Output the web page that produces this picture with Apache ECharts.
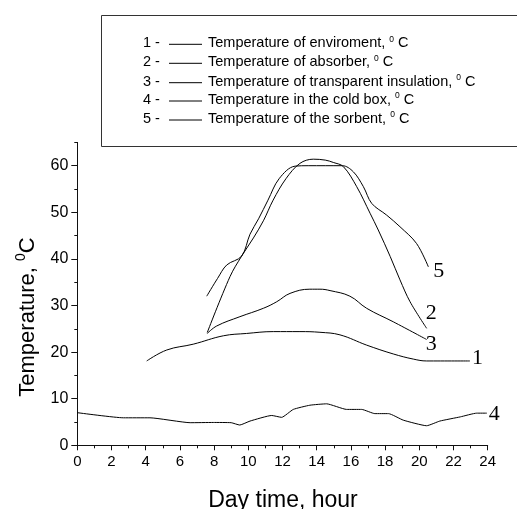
<!DOCTYPE html>
<html>
<head>
<meta charset="utf-8">
<script src="https://cdn.jsdelivr.net/npm/echarts@6/dist/echarts.min.js"></script>
<style>html,body{margin:0;padding:0;background:#fff}#c{width:517px;height:509px}</style>
</head>
<body>
<div id="c"></div>
<script>
// ---- data (hour, temperature) ----
var hours1 = [4.06, 5.23, 6.78, 8.54, 9.9, 11.46, 13.02, 14.19, 15.36, 16.92, 18.48, 19.65, 20.43, 22.96];
var temps1 = [18.1, 20.45, 21.7, 23.5, 24.0, 24.4, 24.4, 24.25, 23.7, 21.5, 19.6, 18.5, 18.1, 18.1];

var hours2 = [7.6, 8.93, 9.61, 10.3, 10.9, 11.45, 12.2, 13.02, 13.8, 14.5, 14.97, 15.56, 16.34, 17.12, 17.6, 18.3, 18.87, 19.46, 20.43];
var temps2 = [24.2, 36.2, 40.6, 44.5, 48.3, 52.6, 57.2, 60.5, 61.4, 61.2, 60.7, 59.8, 55.5, 49.8, 46.2, 40.5, 35.5, 30.8, 25.1];

var hours3 = [7.6, 8.15, 9.51, 10.88, 11.66, 12.44, 13.6, 14.19, 14.78, 15.94, 16.92, 18.48, 20.43];
var temps3 = [24.0, 25.6, 27.6, 29.4, 30.8, 32.6, 33.5, 33.5, 33.2, 32.0, 29.4, 26.5, 22.7];

var hours4 = [0, 2.7, 4.25, 6.6, 7.95, 9.0, 9.5, 10.1, 11.37, 11.95, 12.63, 13.6, 14.58, 15.75, 16.63, 17.4, 18.2, 19.06, 20.43, 21.2, 22.4, 23.36, 23.95];
var temps4 = [7.0, 5.9, 5.9, 4.85, 4.9, 4.85, 4.35, 5.2, 6.4, 6.0, 7.7, 8.6, 8.9, 7.7, 7.7, 6.8, 6.8, 5.4, 4.2, 5.2, 6.1, 6.9, 6.9];

var hours5 = [7.57, 8.2, 8.74, 9.61, 10.1, 10.6, 11.15, 11.8, 12.73, 13.5, 14.5, 15.5, 16.14, 16.73, 17.22, 18.09, 18.87, 19.84, 20.53];
var temps5 = [32.0, 35.8, 38.7, 40.6, 45.3, 48.6, 52.6, 57.2, 59.9, 60.0, 60.0, 60.0, 58.7, 55.5, 51.9, 49.4, 46.9, 43.3, 38.3];

var curveLabels = ['1', '2', '3', '4', '5'];
var legendNames = [
  'Temperature of enviroment, ',
  'Temperature of absorber, ',
  'Temperature of transparent insulation, ',
  'Temperature in the cold box, ',
  'Temperature of the sorbent, '
];
var xTicks = [0, 2, 4, 6, 8, 10, 12, 14, 16, 18, 20, 22, 24];
var yTicks = [0, 10, 20, 30, 40, 50, 60];

function pairs(h, t) { return h.map(function (v, i) { return [v, t[i]]; }); }

var chart = echarts.init(document.getElementById('c'), null, { renderer: 'canvas' });

var sans = 'Liberation Sans, Arial, sans-serif';
var serif = 'Liberation Serif, Times New Roman, serif';

var labelOffsets = [[-6, -3], [-9, -15], [-9, 5], [-6, 1], [-3, 4]];
var smoothVals = [0.4, 0.35, 0.4, 0.15, 0.35];
var allH = [hours1, hours2, hours3, hours4, hours5];
var allT = [temps1, temps2, temps3, temps4, temps5];

var series = allH.map(function (h, i) {
  return {
    type: 'line',
    name: curveLabels[i],
    data: pairs(h, allT[i]),
    showSymbol: false,
    smooth: smoothVals[i],
    lineStyle: { color: '#000', width: 1 },
    itemStyle: { color: '#000' },
    silent: true,
    animation: false,
    endLabel: {
      show: true,
      formatter: curveLabels[i],
      fontFamily: serif,
      fontSize: 22,
      color: '#000',
      offset: labelOffsets[i]
    }
  };
});

// legend graphics
var rowY = [43.3, 62.3, 81.7, 100, 119];
var graphics = [{
  type: 'rect',
  shape: { x: 101.5, y: 15.5, width: 430, height: 131 },
  style: { fill: '#fff', stroke: '#333', lineWidth: 1 },
  z: 0
}];
legendNames.forEach(function (n, i) {
  graphics.push({
    type: 'text', x: 143, y: rowY[i],
    style: { text: curveLabels[i] + ' -', font: '14.5px ' + sans, fill: '#000', verticalAlign: 'middle' }, z: 2
  });
  graphics.push({
    type: 'line', shape: { x1: 169, y1: rowY[i] + 1, x2: 202, y2: rowY[i] + 1 },
    style: { stroke: '#000', lineWidth: 1 }, z: 2
  });
  graphics.push({
    type: 'text', x: 208, y: rowY[i],
    style: {
      text: n + '{s|0} C', font: '14.5px ' + sans, fill: '#000', verticalAlign: 'middle',
      rich: { s: { fontSize: 8.5, fontFamily: sans, verticalAlign: 'top', padding: [0, 0, 8, 0] } }
    }, z: 2
  });
});
// y axis title
graphics.push({
  type: 'text', x: 28, y: 317, rotation: Math.PI / 2,
  style: {
    text: 'Temperature, {s|0}C', font: '22px ' + sans, fill: '#000', align: 'center', verticalAlign: 'middle',
    rich: { s: { fontSize: 14, fontFamily: sans, verticalAlign: 'top', padding: [0, 0, 13, 0] } }
  }, z: 2
});
// x axis title
graphics.push({
  type: 'text', x: 283, y: 501,
  style: { text: 'Day time, hour', font: '23px ' + sans, fill: '#000', align: 'center', verticalAlign: 'middle' }, z: 2
});

chart.setOption({
  animation: false,
  backgroundColor: '#fff',
  grid: { left: 77.3, right: 29.3, top: 142.4, bottom: 63.7, containLabel: false },
  xAxis: {
    type: 'value', min: 0, max: 24, interval: 2,
    axisLine: { lineStyle: { color: '#111', width: 1 } },
    axisTick: { show: true, length: 5, inside: false, lineStyle: { color: '#111' } },
    minorTick: { show: true, splitNumber: 2, length: 3, lineStyle: { color: '#111' } },
    splitLine: { show: false },
    axisLabel: {
      color: '#000', fontSize: 15, fontFamily: sans, margin: 9,
      customValues: xTicks
    }
  },
  yAxis: [{
    type: 'value', min: 0, max: 65, interval: 10,
    axisLine: { show: true, lineStyle: { color: '#111', width: 1 } },
    axisTick: { show: true, length: 6, lineStyle: { color: '#111' }, customValues: yTicks },
    splitLine: { show: false },
    axisLabel: { color: '#000', fontSize: 16, fontFamily: sans, margin: 9, customValues: yTicks }
  }, {
    type: 'value', min: 0, max: 65, interval: 5, position: 'left',
    axisLine: { show: false },
    axisTick: { show: true, length: 3, lineStyle: { color: '#111' } },
    splitLine: { show: false },
    axisLabel: { show: false }
  }],
  series: series,
  graphic: graphics
});
</script>
</body>
</html>
